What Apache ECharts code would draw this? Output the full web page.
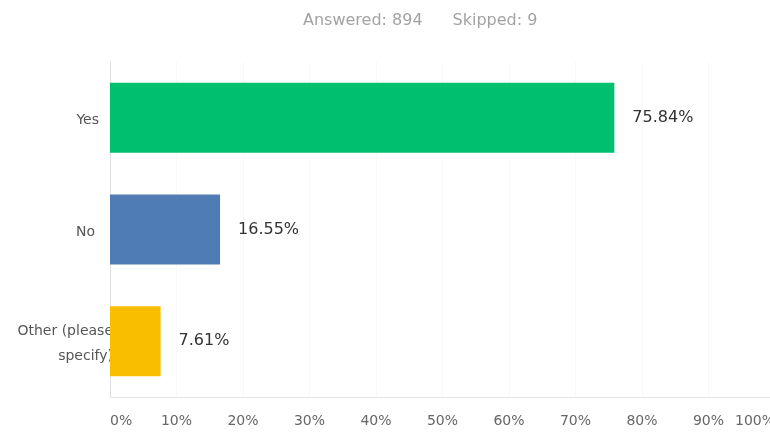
<!DOCTYPE html>
<html>
<head>
<meta charset="utf-8">
<script src="https://cdn.jsdelivr.net/npm/echarts@6/dist/echarts.min.js"></script>
<style>
  html, body { margin: 0; padding: 0; background: #ffffff; }
  #chart { width: 770px; height: 432px; }
</style>
</head>
<body>
<div id="chart"></div>
<script>
// Survey responses
const categories = ['Yes', 'No', 'Other (please\nspecify)'];
const percentages = [75.84, 16.55, 7.61];
const barColors = ['#00bf6f', '#507cb6', '#f9be00'];
const tickValues = [0, 10, 20, 30, 40, 50, 60, 70, 80, 90, 100];
const answeredCount = 894;
const skippedCount = 9;

// Per-category label offsets (right padding in px)
const labelPad = { 'Yes': 14, 'No': 18 };

const labelFont = 'DejaVu Sans, Verdana, sans-serif';
const labelColor = '#555555';
const headerColor = '#a3a3a3';

const chart = echarts.init(document.getElementById('chart'), null, { renderer: 'canvas' });

const option = {
  backgroundColor: '#ffffff',
  animation: false,
  title: {
    left: 298,
    top: 8,
    text: '{a|Answered: ' + answeredCount + '}{b|Skipped: ' + skippedCount + '}',
    textStyle: {
      fontWeight: 'normal',
      rich: {
        a: { fontFamily: labelFont, fontSize: 16, fontWeight: 'normal', color: headerColor },
        b: { fontFamily: labelFont, fontSize: 16, fontWeight: 'normal', color: headerColor, padding: [0, 0, 0, 30] }
      }
    }
  },
  grid: {
    left: 110,
    top: 62,
    width: 665,
    height: 335,
    containLabel: false,
    outerBoundsMode: 'none'
  },
  xAxis: {
    type: 'value',
    min: tickValues[0],
    max: tickValues[tickValues.length - 1],
    interval: 10,
    axisLine: { show: true, lineStyle: { color: '#e6e6e6', width: 1 } },
    axisTick: { show: false },
    splitLine: { show: true, lineStyle: { color: '#f8f8f8', width: 1 } },
    axisLabel: {
      margin: 17,
      color: '#666666',
      fontSize: 14,
      fontFamily: labelFont,
      alignMinLabel: 'left',
      alignMaxLabel: 'right',
      formatter: v => v + '%'
    }
  },
  yAxis: {
    type: 'category',
    data: categories,
    inverse: true,
    axisLine: { show: true, lineStyle: { color: '#dddddd', width: 1 } },
    axisTick: { show: false },
    splitLine: { show: false },
    axisLabel: {
      margin: -3,
      align: 'right',
      color: labelColor,
      fontSize: 14,
      lineHeight: 25,
      fontFamily: labelFont,
      formatter: v => {
        const key = labelPad[v] !== undefined ? (v === 'Yes' ? 'y' : 'n') : 'o';
        return v.split('\n').map(line => '{' + key + '|' + line + '}').join('\n');
      },
      rich: {
        y: { fontSize: 14, color: labelColor, padding: [6, labelPad['Yes'], 0, 0], fontFamily: labelFont },
        n: { fontSize: 14, color: labelColor, padding: [6, labelPad['No'], 0, 0], fontFamily: labelFont },
        o: { fontSize: 14, color: labelColor, lineHeight: 25, padding: [5, 0, 0, 0], fontFamily: labelFont }
      }
    }
  },
  series: [{
    type: 'bar',
    barWidth: 70,
    z: 3,
    data: percentages.map((v, i) => ({ value: v, itemStyle: { color: barColors[i] } })),
    label: {
      show: true,
      position: 'right',
      distance: 18,
      color: '#333333',
      fontSize: 16,
      fontFamily: labelFont,
      formatter: p => p.value.toFixed(2) + '%'
    }
  }]
};

chart.setOption(option);
</script>
</body>
</html>
